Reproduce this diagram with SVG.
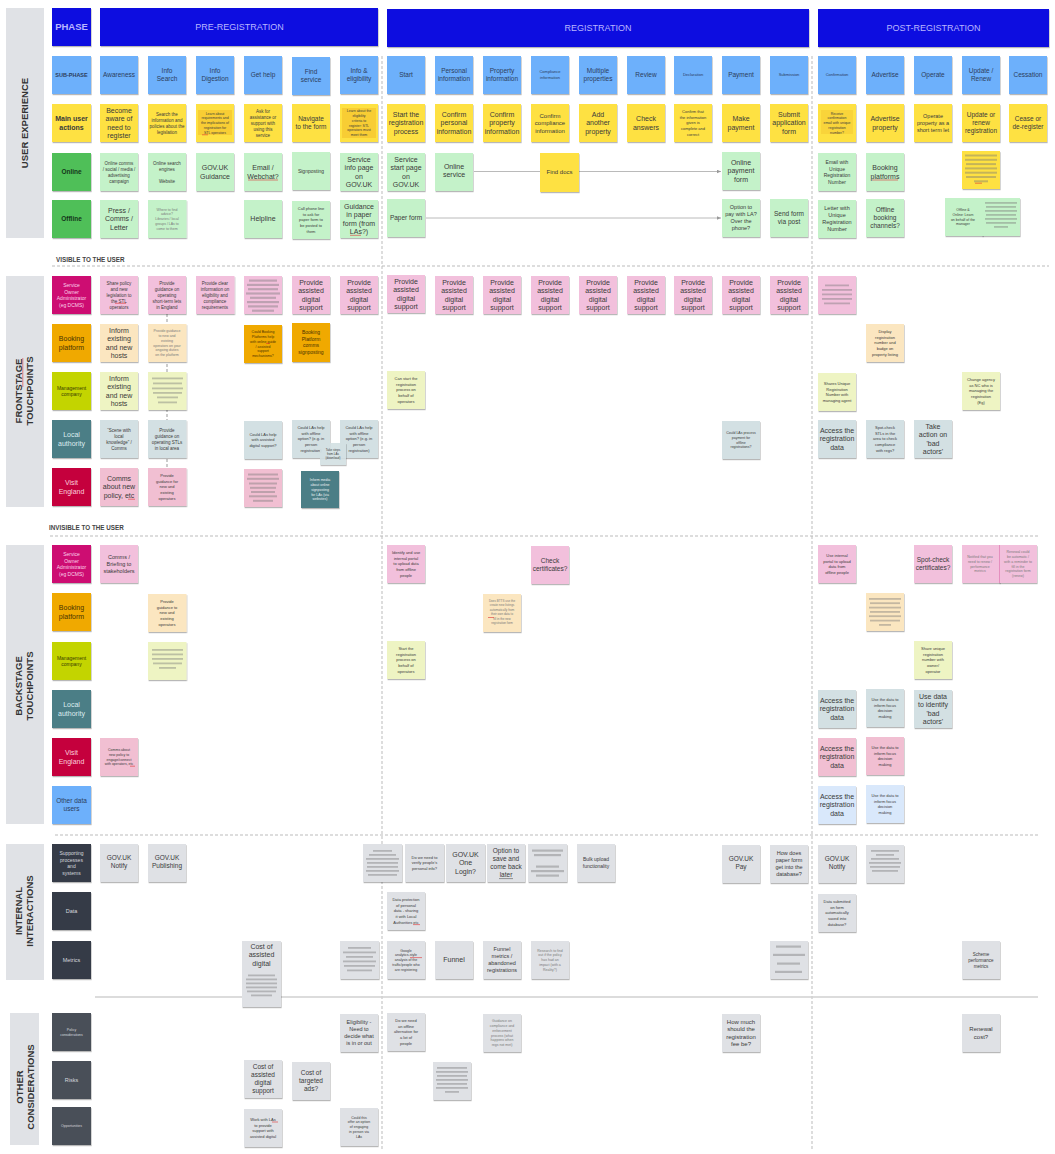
<svg xmlns="http://www.w3.org/2000/svg" width="1055" height="1154" viewBox="0 0 1055 1154">
<defs>
<filter id="sh" x="-10%" y="-10%" width="130%" height="130%"><feDropShadow dx="0.6" dy="1.2" stdDeviation="0.7" flood-color="#000" flood-opacity="0.28"/></filter>
<marker id="ar" markerWidth="5" markerHeight="4" refX="4.5" refY="2" orient="auto" markerUnits="userSpaceOnUse"><path d="M0,0 L4.5,2 L0,4 z" fill="#999"/></marker>
<style>
.n{filter:url(#sh)}
.t{font-family:"Liberation Sans",Arial,Helvetica,sans-serif;text-anchor:middle;fill:#3a3a3a}
.bd{font-weight:bold}
.lane{font-size:9.5px;fill:#333}
.s7{font-size:7px}.s65{font-size:6.5px}.s6{font-size:6px}.s55{font-size:5.5px}.s5{font-size:5px}.s45{font-size:4.5px}.s4{font-size:4px}.s35{font-size:3.5px}.s3{font-size:3px}
.ph{fill:#0b0be0}.bl{fill:#6db0fb}.ye{fill:#fee143}.gl{fill:#4fbf59}.gn{fill:#c4f2c9}.mg{fill:#cd0a72}.pk{fill:#f2c0dc}.or{fill:#f0a900}.pe{fill:#fbe6c0}.li{fill:#c3d400}.pl{fill:#eef4c3}.te{fill:#4b7e86}.lb{fill:#d3e0e3}.cr{fill:#c5003e}.vp{fill:#f1bfd2}.ld{fill:#d9e8fb}.dk{fill:#363b46}.dk2{fill:#4a4f59}.gy{fill:#dfe1e5}.sb{fill:#e0e2e6}
.gb{fill:#777;opacity:.42}
.hl{fill:#f2bd2a;opacity:.55}
.tb{fill:#2c3d5c}.tg{fill:#14361a}.tm{fill:#fbd3ea}.to{fill:#4a3200}.tl{fill:#394000}.tt{fill:#dcecef}.tc{fill:#fbcfdc}.td{fill:#d5d8de}.ltx{fill:#7a7a7a}.tw{fill:#e8f0f2}
.sp{stroke:#d33;stroke-width:.6}
.cn{stroke:#a8a8a8;stroke-width:.8;fill:none}
.dl{stroke:#bbb;stroke-width:1;stroke-dasharray:3 2;fill:none}
</style>
</defs>
<rect width="1055" height="1154" fill="#fff"/>

<g id="lanes">
<rect class="sb" x="6" y="8" width="38" height="230"/>
<rect class="sb" x="6" y="276" width="38" height="231"/>
<rect class="sb" x="6" y="545" width="38" height="279"/>
<rect class="sb" x="6" y="844" width="38" height="136"/>
<rect class="sb" x="10" y="1013" width="29" height="132"/>
<text class="t bd lane" transform="translate(25,123) rotate(-90)"><tspan x="0" y="3">USER EXPERIENCE</tspan></text>
<text class="t bd lane" transform="translate(25,391) rotate(-90)"><tspan x="0" y="-3.5">FRONTSTAGE</tspan><tspan x="0" y="8">TOUCHPOINTS</tspan></text>
<line class="sp" x1="22.8" y1="358" x2="22.8" y2="387"/>
<text class="t bd lane" transform="translate(25,686) rotate(-90)"><tspan x="0" y="-3.5">BACKSTAGE</tspan><tspan x="0" y="8">TOUCHPOINTS</tspan></text>
<text class="t bd lane" transform="translate(25,911) rotate(-90)"><tspan x="0" y="-3.5">INTERNAL</tspan><tspan x="0" y="8">INTERACTIONS</tspan></text>
<text class="t bd lane" transform="translate(24.5,1087) rotate(-90)"><tspan x="0" y="-2">OTHER</tspan><tspan x="0" y="9.5">CONSIDERATIONS</tspan></text>
</g>

<g id="dividers">
<path class="dl" d="M382,56 V1150"/>
<path class="dl" d="M812,56 V1150"/>
<path class="dl" d="M52,266 H1049"/>
<path class="dl" d="M50,536 H1038"/>
<path class="dl" d="M55,835 H1040"/>
<path d="M95,997 H1038" stroke="#d0d0d0" stroke-width="1.5"/>
<text class="t bd" x="56" y="262" style="font-size:6.3px;fill:#444;text-anchor:start">VISIBLE TO THE USER</text>
<text class="t bd" x="49" y="530" style="font-size:6.3px;fill:#444;text-anchor:start">INVISIBLE TO THE USER</text>
</g>

<g id="connectors">
<path class="cn" d="M474,171.5 H540"/>
<path class="cn" d="M579,171.5 H721" marker-end="url(#ar)"/>
<path class="cn" d="M426,218 H721" marker-end="url(#ar)"/>
<path class="dl" d="M167,314 V468" style="stroke:#999"/>
</g>

<g id="phases">
<g id="phase-label"><rect class="n ph" x="52" y="8" width="39" height="38"/><text class="t bd" x="71.5" y="30.3" style="font-size:9.5px;fill:#b9b6ff">PHASE</text></g>
<g id="phase-pre"><rect class="n ph" x="100" y="8" width="278" height="38"/><text class="t" x="239.5" y="30.3" style="font-size:9px;fill:#b9b6ff">PRE-REGISTRATION</text></g>
<g id="phase-reg"><rect class="n ph" x="387" y="9" width="422" height="38"/><text class="t" x="598" y="30.8" style="font-size:9px;fill:#b9b6ff">REGISTRATION</text></g>
<g id="phase-post"><rect class="n ph" x="818" y="9" width="231" height="38"/><text class="t" x="933.5" y="30.8" style="font-size:9px;fill:#b9b6ff">POST-REGISTRATION</text></g>
</g>

<g id="ux-subphase">
<g id="lbl-sub"><rect class="n bl" x="52" y="56" width="39" height="38"/><text class="t s55 bd tb"><tspan x="71.5" y="76.9">SUB-PHASE</tspan></text></g>
<g id="sp-aw"><rect class="n bl" x="100" y="56" width="38" height="38"/><text class="t s65 tb"><tspan x="119" y="77.3">Awareness</tspan></text></g>
<g id="sp-is"><rect class="n bl" x="148" y="56" width="38" height="38"/><text class="t s65 tb"><tspan x="167" y="73.3">Info</tspan><tspan x="167" dy="8">Search</tspan></text></g>
<g id="sp-id"><rect class="n bl" x="196" y="56" width="38" height="38"/><text class="t s65 tb"><tspan x="215" y="73.3">Info</tspan><tspan x="215" dy="8">Digestion</tspan></text></g>
<g id="sp-gh"><rect class="n bl" x="244" y="56" width="38" height="38"/><text class="t s65 tb"><tspan x="263" y="77.3">Get help</tspan></text></g>
<g id="sp-fs"><rect class="n bl" x="292" y="57" width="38" height="38"/><text class="t s65 tb"><tspan x="311" y="74.3">Find</tspan><tspan x="311" dy="8">service</tspan></text></g>
<g id="sp-ie"><rect class="n bl" x="340" y="56" width="38" height="38"/><text class="t s65 tb"><tspan x="359" y="73.3">Info &amp;</tspan><tspan x="359" dy="8">eligibility</tspan></text></g>
<g id="sp-st"><rect class="n bl" x="387" y="56" width="38" height="38"/><text class="t s65 tb"><tspan x="406" y="77.3">Start</tspan></text></g>
<g id="sp-pi"><rect class="n bl" x="435" y="56" width="38" height="38"/><text class="t s65 tb"><tspan x="454" y="73.3">Personal</tspan><tspan x="454" dy="8">information</tspan></text></g>
<g id="sp-pr"><rect class="n bl" x="483" y="56" width="38" height="38"/><text class="t s65 tb"><tspan x="502" y="73.3">Property</tspan><tspan x="502" dy="8">information</tspan></text></g>
<g id="sp-co"><rect class="n bl" x="531" y="56" width="38" height="38"/><text class="t s4 tb"><tspan x="550" y="73.4">Compliance</tspan><tspan x="550" dy="6">information</tspan></text></g>
<g id="sp-mp"><rect class="n bl" x="579" y="56" width="38" height="38"/><text class="t s65 tb"><tspan x="598" y="73.3">Multiple</tspan><tspan x="598" dy="8">properties</tspan></text></g>
<g id="sp-rv"><rect class="n bl" x="627" y="56" width="38" height="38"/><text class="t s65 tb"><tspan x="646" y="77.3">Review</tspan></text></g>
<g id="sp-de"><rect class="n bl" x="674" y="56" width="38" height="38"/><text class="t s4 tb"><tspan x="693" y="76.4">Declaration</tspan></text></g>
<g id="sp-pa"><rect class="n bl" x="722" y="56" width="38" height="38"/><text class="t s65 tb"><tspan x="741" y="77.3">Payment</tspan></text></g>
<g id="sp-su"><rect class="n bl" x="770" y="56" width="38" height="38"/><text class="t s4 tb"><tspan x="789" y="76.4">Submission</tspan></text></g>
<g id="sp-cf"><rect class="n bl" x="818" y="56" width="38" height="38"/><text class="t s4 tb"><tspan x="837" y="76.4">Confirmation</tspan></text></g>
<g id="sp-ad"><rect class="n bl" x="866" y="56" width="38" height="38"/><text class="t s65 tb"><tspan x="885" y="77.3">Advertise</tspan></text></g>
<g id="sp-op"><rect class="n bl" x="914" y="56" width="38" height="38"/><text class="t s65 tb"><tspan x="933" y="77.3">Operate</tspan></text></g>
<g id="sp-ur"><rect class="n bl" x="962" y="56" width="38" height="38"/><text class="t s65 tb"><tspan x="981" y="73.3">Update /</tspan><tspan x="981" dy="8">Renew</tspan></text></g>
<g id="sp-ce"><rect class="n bl" x="1009" y="56" width="38" height="38"/><text class="t s65 tb"><tspan x="1028" y="77.3">Cessation</tspan></text></g>
</g>

<g id="ux-main">
<g id="lbl-main"><rect class="n ye" x="52" y="104" width="39" height="38"/><text class="t s7 bd"><tspan x="71.5" y="121.3">Main user</tspan><tspan x="71.5" dy="8.3">actions</tspan></text></g>
<g id="ma-aw"><rect class="n ye" x="100" y="104" width="38" height="38"/><text class="t s7"><tspan x="119" y="113">Become</tspan><tspan x="119" dy="8.3">aware of</tspan><tspan x="119" dy="8.3">need to</tspan><tspan x="119" dy="8.3">register</tspan></text></g>
<g id="ma-is"><rect class="n ye" x="148" y="104" width="38" height="38"/><text class="t s45"><tspan x="167" y="115.6">Search the</tspan><tspan x="167" dy="6">information and</tspan><tspan x="167" dy="6">policies about the</tspan><tspan x="167" dy="6">legislation</tspan></text></g>
<g id="ma-id"><rect class="n ye" x="196" y="104" width="38" height="38"/><rect class="hl" x="198" y="110" width="34" height="25"/><text class="t s35"><tspan x="215" y="114.6">Learn about</tspan><tspan x="215" dy="4.8">requirements and</tspan><tspan x="215" dy="4.8">the implications of</tspan><tspan x="215" dy="4.8">registration for</tspan><tspan x="215" dy="4.8">STL operators</tspan></text><line class="sp" x1="202" y1="134.8" x2="208" y2="134.8"/></g>
<g id="ma-gh"><rect class="n ye" x="244" y="104" width="38" height="38"/><text class="t s45"><tspan x="263" y="112.6">Ask for</tspan><tspan x="263" dy="6">assistance or</tspan><tspan x="263" dy="6">support with</tspan><tspan x="263" dy="6">using this</tspan><tspan x="263" dy="6">service</tspan></text></g>
<g id="ma-fs"><rect class="n ye" x="292" y="104" width="38" height="38"/><text class="t s65"><tspan x="311" y="121.3">Navigate</tspan><tspan x="311" dy="8">to the form</tspan></text></g>
<g id="ma-ie"><rect class="n ye" x="340" y="104" width="38" height="38"/><rect class="hl" x="342" y="108" width="34" height="30"/><text class="t s35"><tspan x="359" y="112.2">Learn about the</tspan><tspan x="359" dy="4.8">eligibility</tspan><tspan x="359" dy="4.8">criteria to</tspan><tspan x="359" dy="4.8">register: STL</tspan><tspan x="359" dy="4.8">operators must</tspan><tspan x="359" dy="4.8">meet them</tspan></text></g>
<g id="ma-st"><rect class="n ye" x="387" y="104" width="38" height="38"/><text class="t s7"><tspan x="406" y="117.15">Start the</tspan><tspan x="406" dy="8.3">registration</tspan><tspan x="406" dy="8.3">process</tspan></text></g>
<g id="ma-pi"><rect class="n ye" x="435" y="104" width="38" height="38"/><text class="t s7"><tspan x="454" y="117.15">Confirm</tspan><tspan x="454" dy="8.3">personal</tspan><tspan x="454" dy="8.3">information</tspan></text></g>
<g id="ma-pr"><rect class="n ye" x="483" y="104" width="38" height="38"/><text class="t s7"><tspan x="502" y="117.15">Confirm</tspan><tspan x="502" dy="8.3">property</tspan><tspan x="502" dy="8.3">information</tspan></text></g>
<g id="ma-co"><rect class="n ye" x="531" y="104" width="38" height="38"/><text class="t s6"><tspan x="550" y="117.6">Confirm</tspan><tspan x="550" dy="7.5">compliance</tspan><tspan x="550" dy="7.5">information</tspan></text></g>
<g id="ma-mp"><rect class="n ye" x="579" y="104" width="38" height="38"/><text class="t s7"><tspan x="598" y="117.15">Add</tspan><tspan x="598" dy="8.3">another</tspan><tspan x="598" dy="8.3">property</tspan></text></g>
<g id="ma-rv"><rect class="n ye" x="627" y="104" width="38" height="38"/><text class="t s7"><tspan x="646" y="121.3">Check</tspan><tspan x="646" dy="8.3">answers</tspan></text></g>
<g id="ma-de"><rect class="n ye" x="674" y="104" width="38" height="38"/><text class="t s4"><tspan x="693" y="113">Confirm that</tspan><tspan x="693" dy="5.7">the information</tspan><tspan x="693" dy="5.7">given is</tspan><tspan x="693" dy="5.7">complete and</tspan><tspan x="693" dy="5.7">correct</tspan></text></g>
<g id="ma-pa"><rect class="n ye" x="722" y="104" width="38" height="38"/><text class="t s7"><tspan x="741" y="121.3">Make</tspan><tspan x="741" dy="8.3">payment</tspan></text></g>
<g id="ma-su"><rect class="n ye" x="770" y="104" width="38" height="38"/><text class="t s7"><tspan x="789" y="117.15">Submit</tspan><tspan x="789" dy="8.3">application</tspan><tspan x="789" dy="8.3">form</tspan></text></g>
<g id="ma-cf"><rect class="n ye" x="818" y="104" width="38" height="38"/><rect class="hl" x="821" y="110" width="32" height="24" style="opacity:.35"/><text class="t s35"><tspan x="837" y="114.6">Receive</tspan><tspan x="837" dy="4.8">confirmation</tspan><tspan x="837" dy="4.8">email with unique</tspan><tspan x="837" dy="4.8">registration</tspan><tspan x="837" dy="4.8">number?</tspan></text></g>
<g id="ma-ad"><rect class="n ye" x="866" y="104" width="38" height="38"/><text class="t s7"><tspan x="885" y="121.3">Advertise</tspan><tspan x="885" dy="8.3">property</tspan></text></g>
<g id="ma-op"><rect class="n ye" x="914" y="104" width="38" height="38"/><text class="t s55"><tspan x="933" y="117.9">Operate</tspan><tspan x="933" dy="7">property as a</tspan><tspan x="933" dy="7">short term let</tspan></text></g>
<g id="ma-ur"><rect class="n ye" x="962" y="104" width="38" height="38"/><text class="t s65"><tspan x="981" y="117.3">Update or</tspan><tspan x="981" dy="8">renew</tspan><tspan x="981" dy="8">registration</tspan></text></g>
<g id="ma-ce"><rect class="n ye" x="1009" y="104" width="38" height="38"/><text class="t s65"><tspan x="1028" y="121.3">Cease or</tspan><tspan x="1028" dy="8">de-register</tspan></text></g>
</g>

<g id="ux-online">
<g id="lbl-online"><rect class="n gl" x="52" y="153" width="39" height="38"/><text class="t s65 bd tg"><tspan x="71.5" y="174.3">Online</tspan></text></g>
<g id="on-aw"><rect class="n gn" x="100" y="153" width="38" height="38"/><text class="t s45"><tspan x="119" y="164.6">Online comms</tspan><tspan x="119" dy="6">/ social / media /</tspan><tspan x="119" dy="6">advertising</tspan><tspan x="119" dy="6">campaign</tspan></text></g>
<g id="on-is"><rect class="n gn" x="148" y="153" width="38" height="38"/><text class="t s45"><tspan x="167" y="164.6">Online search</tspan><tspan x="167" dy="6">engines</tspan><tspan x="167" dy="12">Website</tspan></text></g>
<g id="on-id"><rect class="n gn" x="196" y="153" width="38" height="38"/><text class="t s7"><tspan x="215" y="170.3">GOV.UK</tspan><tspan x="215" dy="8.3">Guidance</tspan></text></g>
<g id="on-gh"><rect class="n gn" x="244" y="153" width="38" height="38"/><text class="t s7"><tspan x="263" y="170.3">Email /</tspan><tspan x="263" dy="8.3">Webchat?</tspan></text><line class="sp" x1="248" y1="180" x2="278" y2="180"/></g>
<g id="on-fs"><rect class="n gn" x="292" y="152" width="38" height="38"/><text class="t s5"><tspan x="311" y="172.75">Signposting</tspan></text></g>
<g id="on-ie"><rect class="n gn" x="340" y="153" width="38" height="38"/><text class="t s7"><tspan x="359" y="162">Service</tspan><tspan x="359" dy="8.3">info page</tspan><tspan x="359" dy="8.3">on</tspan><tspan x="359" dy="8.3">GOV.UK</tspan></text></g>
<g id="on-st"><rect class="n gn" x="387" y="153" width="38" height="38"/><text class="t s7"><tspan x="406" y="162">Service</tspan><tspan x="406" dy="8.3">start page</tspan><tspan x="406" dy="8.3">on</tspan><tspan x="406" dy="8.3">GOV.UK</tspan></text></g>
<g id="on-pi"><rect class="n gn" x="435" y="153" width="38" height="38"/><text class="t s7"><tspan x="454" y="169">Online</tspan><tspan x="454" dy="8.3">service</tspan></text></g>
<g id="on-docs"><rect class="n ye" x="540" y="153" width="39" height="39"/><text class="t s6"><tspan x="559.5" y="174.1">Find docs</tspan></text></g>
<g id="on-pa"><rect class="n gn" x="722" y="152" width="38" height="38"/><text class="t s7"><tspan x="741" y="165.15">Online</tspan><tspan x="741" dy="8.3">payment</tspan><tspan x="741" dy="8.3">form</tspan></text></g>
<g id="on-cf"><rect class="n gn" x="818" y="153" width="38" height="38"/><text class="t s5"><tspan x="837" y="164">Email with</tspan><tspan x="837" dy="6.5">Unique</tspan><tspan x="837" dy="6.5">Registration</tspan><tspan x="837" dy="6.5">Number</tspan></text></g>
<g id="on-ad"><rect class="n gn" x="866" y="153" width="38" height="38"/><text class="t s7"><tspan x="885" y="170.3">Booking</tspan><tspan x="885" dy="8.3">platforms</tspan></text><line class="sp" x1="872" y1="180" x2="898" y2="180"/></g>
<g id="on-ur"><rect class="n ye" x="962" y="151" width="38" height="38"/><rect class="gb" x="965" y="154.5" width="32" height="2"/><rect class="gb" x="965" y="158.8" width="32" height="2"/><rect class="gb" x="966" y="163.1" width="30" height="2"/><rect class="gb" x="965" y="167.4" width="32" height="2"/><rect class="gb" x="965" y="171.7" width="32" height="2"/><rect class="gb" x="966" y="176" width="30" height="2"/><rect class="gb" x="974" y="180.3" width="14" height="2"/><line class="sp" x1="975" y1="183.2" x2="982" y2="183.2"/></g>
</g>

<g id="ux-offline">
<g id="lbl-offline"><rect class="n gl" x="52" y="200" width="39" height="38"/><text class="t s65 bd tg"><tspan x="71.5" y="221.3">Offline</tspan></text></g>
<g id="off-aw"><rect class="n gn" x="100" y="200" width="38" height="38"/><text class="t s7"><tspan x="119" y="213.15">Press /</tspan><tspan x="119" dy="8.3">Comms /</tspan><tspan x="119" dy="8.3">Letter</tspan></text></g>
<g id="off-is"><rect class="n gn" x="148" y="200" width="38.5" height="38"/><text class="t s35 ltx"><tspan x="167" y="210.6">Where to find</tspan><tspan x="167" dy="4.8">advice?</tspan><tspan x="167" dy="4.8">Libraries / local</tspan><tspan x="167" dy="4.8">groups / LAs to</tspan><tspan x="167" dy="4.8">come to them</tspan></text></g>
<g id="off-gh"><rect class="n gn" x="244" y="200" width="38" height="38"/><text class="t s7"><tspan x="263" y="221.45">Helpline</tspan></text></g>
<g id="off-fs"><rect class="n gn" x="292" y="201" width="38" height="38"/><text class="t s4"><tspan x="311" y="210">Call phone line</tspan><tspan x="311" dy="5.7">to ask for</tspan><tspan x="311" dy="5.7">paper form to</tspan><tspan x="311" dy="5.7">be posted to</tspan><tspan x="311" dy="5.7">them</tspan></text></g>
<g id="off-ie"><rect class="n gn" x="340" y="200" width="38" height="38"/><text class="t s7"><tspan x="359" y="209">Guidance</tspan><tspan x="359" dy="8.3">in paper</tspan><tspan x="359" dy="8.3">form (from</tspan><tspan x="359" dy="8.3">LAs?)</tspan></text><line class="sp" x1="350" y1="235.3" x2="361" y2="235.3"/></g>
<g id="off-st"><rect class="n gn" x="387" y="199" width="38" height="38"/><text class="t s65"><tspan x="406" y="220.3">Paper form</tspan></text></g>
<g id="off-pa"><rect class="n gn" x="722" y="199" width="38" height="38"/><text class="t s55"><tspan x="741" y="209.4">Option to</tspan><tspan x="741" dy="7">pay with LA?</tspan><tspan x="741" dy="7">Over the</tspan><tspan x="741" dy="7">phone?</tspan></text></g>
<g id="off-su"><rect class="n gn" x="770" y="199" width="38" height="38"/><text class="t s65"><tspan x="789" y="216.3">Send form</tspan><tspan x="789" dy="8">via post</tspan></text></g>
<g id="off-cf"><rect class="n gn" x="818" y="200" width="38" height="38"/><text class="t s55"><tspan x="837" y="210.4">Letter with</tspan><tspan x="837" dy="7">Unique</tspan><tspan x="837" dy="7">Registration</tspan><tspan x="837" dy="7">Number</tspan></text></g>
<g id="off-ad"><rect class="n gn" x="866" y="199" width="38" height="38"/><text class="t s65"><tspan x="885" y="212.3">Offline</tspan><tspan x="885" dy="8">booking</tspan><tspan x="885" dy="8">channels?</tspan></text></g>
<g id="off-ur"><rect class="n gn" x="945" y="198" width="38" height="38"/><text class="t s35"><tspan x="963" y="211">Offline &amp;</tspan><tspan x="963" dy="4.8">Online: Learn</tspan><tspan x="963" dy="4.8">on behalf of the</tspan><tspan x="963" dy="4.8">manager</tspan></text></g>
<g id="off-ur2"><rect class="n gn" x="982" y="198" width="38" height="38"/><rect class="gb" x="985" y="202" width="32" height="1.8"/><rect class="gb" x="986" y="206" width="30" height="1.8"/><rect class="gb" x="985" y="210" width="32" height="1.8"/><rect class="gb" x="986" y="214" width="30" height="1.8"/><rect class="gb" x="985" y="218" width="32" height="1.8"/><rect class="gb" x="986" y="222" width="30" height="1.8"/><rect class="gb" x="994" y="226" width="14" height="1.8"/></g>
</g>

<g id="fs-owner">
<g id="lbl-fs-owner"><rect class="n mg" x="52" y="276" width="39" height="38"/><text class="t s5 tm"><tspan x="71.5" y="287">Service</tspan><tspan x="71.5" dy="6.5">Owner</tspan><tspan x="71.5" dy="6.5">Administrator</tspan><tspan x="71.5" dy="6.5">(eg DCMS)</tspan></text></g>
<g id="fso-aw"><rect class="n pk" x="100" y="276" width="38" height="38"/><text class="t s45"><tspan x="119" y="284.6">Share policy</tspan><tspan x="119" dy="6">and new</tspan><tspan x="119" dy="6">legislation to</tspan><tspan x="119" dy="6">the STL</tspan><tspan x="119" dy="6">operators</tspan></text><line class="sp" x1="115" y1="303.3" x2="126" y2="303.3"/></g>
<g id="fso-is"><rect class="n pk" x="148" y="276" width="38" height="38"/><text class="t s45"><tspan x="167" y="284.6">Provide</tspan><tspan x="167" dy="6">guidance on</tspan><tspan x="167" dy="6">operating</tspan><tspan x="167" dy="6">short-term lets</tspan><tspan x="167" dy="6">in England</tspan></text></g>
<g id="fso-id"><rect class="n pk" x="196" y="276" width="38.5" height="38"/><text class="t s45"><tspan x="215" y="284.6">Provide clear</tspan><tspan x="215" dy="6">information on</tspan><tspan x="215" dy="6">eligibility and</tspan><tspan x="215" dy="6">compliance</tspan><tspan x="215" dy="6">requirements</tspan></text></g>
<g id="fso-gh"><rect class="n pk" x="244" y="276" width="38" height="38"/><rect class="gb" x="249" y="279.5" width="28" height="2.2"/><rect class="gb" x="247" y="283.8" width="32" height="2.2"/><rect class="gb" x="248" y="288.1" width="30" height="2.2"/><rect class="gb" x="246" y="292.4" width="34" height="2.2"/><rect class="gb" x="250" y="296.7" width="26" height="2.2"/><rect class="gb" x="247" y="301" width="32" height="2.2"/><rect class="gb" x="248" y="305.3" width="30" height="2.2"/><rect class="gb" x="252" y="309.6" width="22" height="2.2"/></g>
<g id="fso-fs"><rect class="n pk" x="292" y="276" width="38" height="38"/><text class="t s7"><tspan x="311" y="285">Provide</tspan><tspan x="311" dy="8.3">assisted</tspan><tspan x="311" dy="8.3">digital</tspan><tspan x="311" dy="8.3">support</tspan></text></g>
<g id="fso-ie"><rect class="n pk" x="340" y="276" width="38" height="38"/><text class="t s7"><tspan x="359" y="285">Provide</tspan><tspan x="359" dy="8.3">assisted</tspan><tspan x="359" dy="8.3">digital</tspan><tspan x="359" dy="8.3">support</tspan></text></g>
<g id="fso-st"><rect class="n pk" x="387" y="275" width="38" height="38"/><text class="t s7"><tspan x="406" y="284">Provide</tspan><tspan x="406" dy="8.3">assisted</tspan><tspan x="406" dy="8.3">digital</tspan><tspan x="406" dy="8.3">support</tspan></text></g>
<g id="fso-pi"><rect class="n pk" x="435" y="276" width="38" height="38"/><text class="t s7"><tspan x="454" y="285">Provide</tspan><tspan x="454" dy="8.3">assisted</tspan><tspan x="454" dy="8.3">digital</tspan><tspan x="454" dy="8.3">support</tspan></text></g>
<g id="fso-pr"><rect class="n pk" x="483" y="276" width="38" height="38"/><text class="t s7"><tspan x="502" y="285">Provide</tspan><tspan x="502" dy="8.3">assisted</tspan><tspan x="502" dy="8.3">digital</tspan><tspan x="502" dy="8.3">support</tspan></text></g>
<g id="fso-co"><rect class="n pk" x="531" y="276" width="38" height="38"/><text class="t s7"><tspan x="550" y="285">Provide</tspan><tspan x="550" dy="8.3">assisted</tspan><tspan x="550" dy="8.3">digital</tspan><tspan x="550" dy="8.3">support</tspan></text></g>
<g id="fso-mp"><rect class="n pk" x="579" y="276" width="38" height="38"/><text class="t s7"><tspan x="598" y="285">Provide</tspan><tspan x="598" dy="8.3">assisted</tspan><tspan x="598" dy="8.3">digital</tspan><tspan x="598" dy="8.3">support</tspan></text></g>
<g id="fso-rv"><rect class="n pk" x="627" y="276" width="38" height="38"/><text class="t s7"><tspan x="646" y="285">Provide</tspan><tspan x="646" dy="8.3">assisted</tspan><tspan x="646" dy="8.3">digital</tspan><tspan x="646" dy="8.3">support</tspan></text></g>
<g id="fso-de"><rect class="n pk" x="674" y="276" width="38" height="38"/><text class="t s7"><tspan x="693" y="285">Provide</tspan><tspan x="693" dy="8.3">assisted</tspan><tspan x="693" dy="8.3">digital</tspan><tspan x="693" dy="8.3">support</tspan></text></g>
<g id="fso-pa"><rect class="n pk" x="722" y="276" width="38" height="38"/><text class="t s7"><tspan x="741" y="285">Provide</tspan><tspan x="741" dy="8.3">assisted</tspan><tspan x="741" dy="8.3">digital</tspan><tspan x="741" dy="8.3">support</tspan></text></g>
<g id="fso-su"><rect class="n pk" x="770" y="276" width="38" height="38"/><text class="t s7"><tspan x="789" y="285">Provide</tspan><tspan x="789" dy="8.3">assisted</tspan><tspan x="789" dy="8.3">digital</tspan><tspan x="789" dy="8.3">support</tspan></text></g>
<g id="fso-cf"><rect class="n pk" x="818" y="276" width="38" height="38"/><rect class="gb" x="825" y="284.5" width="24" height="1.8"/><rect class="gb" x="822" y="289" width="30" height="1.8"/><rect class="gb" x="822" y="293.5" width="30" height="1.8"/><rect class="gb" x="822" y="298" width="30" height="1.8"/><rect class="gb" x="824" y="302.5" width="26" height="1.8"/></g>
</g>

<g id="fs-booking">
<g id="lbl-fs-booking"><rect class="n or" x="52" y="324" width="39" height="38"/><text class="t s7 to"><tspan x="71.5" y="341.3">Booking</tspan><tspan x="71.5" dy="8.3">platform</tspan></text></g>
<g id="fsb-aw"><rect class="n pe" x="100" y="324" width="38" height="38"/><text class="t s7"><tspan x="119" y="333">Inform</tspan><tspan x="119" dy="8.3">existing</tspan><tspan x="119" dy="8.3">and new</tspan><tspan x="119" dy="8.3">hosts</tspan></text></g>
<g id="fsb-is"><rect class="n pe" x="148" y="324" width="38.5" height="38"/><text class="t s35 ltx"><tspan x="167" y="332.2">Provide guidance</tspan><tspan x="167" dy="4.8">to new and</tspan><tspan x="167" dy="4.8">existing</tspan><tspan x="167" dy="4.8">operators on your</tspan><tspan x="167" dy="4.8">ongoing duties</tspan><tspan x="167" dy="4.8">on the platform</tspan></text></g>
<g id="fsb-gh"><rect class="n or" x="244" y="325" width="38" height="38"/><text class="t s35 to"><tspan x="263" y="333.2">Could Booking</tspan><tspan x="263" dy="4.8">Platforms help</tspan><tspan x="263" dy="4.8">with online guide</tspan><tspan x="263" dy="4.8">/ assisted</tspan><tspan x="263" dy="4.8">support</tspan><tspan x="263" dy="4.8">mechanisms?</tspan></text><line class="sp" x1="266" y1="343.4" x2="270" y2="343.4"/></g>
<g id="fsb-fs"><rect class="n or" x="292" y="323" width="38" height="39"/><text class="t s5 to"><tspan x="311" y="334">Booking</tspan><tspan x="311" dy="6.5">Platform</tspan><tspan x="311" dy="6.5">comms</tspan><tspan x="311" dy="6.5">signposting</tspan></text></g>
<g id="fsb-ad"><rect class="n pe" x="866" y="324" width="38" height="38"/><text class="t s4"><tspan x="885" y="333">Display</tspan><tspan x="885" dy="5.7">registration</tspan><tspan x="885" dy="5.7">number and</tspan><tspan x="885" dy="5.7">badge on</tspan><tspan x="885" dy="5.7">property listing</tspan></text></g>
</g>

<g id="fs-mgmt">
<g id="lbl-fs-mgmt"><rect class="n li" x="52" y="372" width="39" height="38"/><text class="t s5 tl"><tspan x="71.5" y="389.5">Management</tspan><tspan x="71.5" dy="6.5">company</tspan></text></g>
<g id="fsm-aw"><rect class="n pl" x="100" y="372" width="38" height="38"/><text class="t s7"><tspan x="119" y="381">Inform</tspan><tspan x="119" dy="8.3">existing</tspan><tspan x="119" dy="8.3">and new</tspan><tspan x="119" dy="8.3">hosts</tspan></text></g>
<g id="fsm-is"><rect class="n pl" x="148" y="372" width="38.5" height="38"/><rect class="gb" x="152" y="377.5" width="31" height="1.8"/><rect class="gb" x="153" y="382.5" width="29" height="1.8"/><rect class="gb" x="152" y="387.5" width="31" height="1.8"/><rect class="gb" x="153" y="392" width="29" height="1.8"/><rect class="gb" x="157" y="396.5" width="21" height="1.8"/><rect class="gb" x="158" y="401.5" width="19" height="1.8"/></g>
<g id="fsm-st"><rect class="n pl" x="387" y="371" width="38" height="38"/><text class="t s4"><tspan x="406" y="380">Can start the</tspan><tspan x="406" dy="5.7">registration</tspan><tspan x="406" dy="5.7">process on</tspan><tspan x="406" dy="5.7">behalf of</tspan><tspan x="406" dy="5.7">operators</tspan></text></g>
<g id="fsm-cf"><rect class="n pl" x="818" y="373" width="38" height="38"/><text class="t s4"><tspan x="837" y="384.85">Shares Unique</tspan><tspan x="837" dy="5.7">Registration</tspan><tspan x="837" dy="5.7">Number with</tspan><tspan x="837" dy="5.7">managing agent</tspan></text></g>
<g id="fsm-ur"><rect class="n pl" x="962" y="372" width="38" height="38"/><text class="t s4"><tspan x="981" y="381">Change agency</tspan><tspan x="981" dy="5.7">as NC who is</tspan><tspan x="981" dy="5.7">managing the</tspan><tspan x="981" dy="5.7">registration</tspan><tspan x="981" dy="5.7">(Eg)</tspan></text></g>
</g>

<g id="fs-la">
<g id="lbl-fs-la"><rect class="n te" x="52" y="420" width="39" height="38"/><text class="t s7 tt"><tspan x="71.5" y="437.3">Local</tspan><tspan x="71.5" dy="8.3">authority</tspan></text></g>
<g id="fsl-aw"><rect class="n lb" x="100" y="420" width="38" height="38"/><text class="t s45"><tspan x="119" y="431.6">“Scene with</tspan><tspan x="119" dy="6">local</tspan><tspan x="119" dy="6">knowledge” /</tspan><tspan x="119" dy="6">Comms</tspan></text></g>
<g id="fsl-is"><rect class="n lb" x="148" y="420" width="38.5" height="38"/><text class="t s45"><tspan x="167" y="431.6">Provide</tspan><tspan x="167" dy="6">guidance on</tspan><tspan x="167" dy="6">operating STLs</tspan><tspan x="167" dy="6">in local area</tspan></text></g>
<g id="fsl-gh"><rect class="n lb" x="244" y="421" width="38" height="38"/><text class="t s4"><tspan x="263" y="435.7">Could LAs help</tspan><tspan x="263" dy="5.7">with assisted</tspan><tspan x="263" dy="5.7">digital support?</tspan></text></g>
<g id="fsl-fs"><rect class="n lb" x="292" y="420" width="38" height="38"/><text class="t s4"><tspan x="311" y="429">Could LAs help</tspan><tspan x="311" dy="5.7">with offline</tspan><tspan x="311" dy="5.7">option? (e.g. in</tspan><tspan x="311" dy="5.7">person</tspan><tspan x="311" dy="5.7">registration)</tspan></text></g>
<g id="fsl-ie"><rect class="n lb" x="340" y="420" width="38" height="38"/><text class="t s4"><tspan x="359" y="429">Could LAs help</tspan><tspan x="359" dy="5.7">with offline</tspan><tspan x="359" dy="5.7">option? (e.g. in</tspan><tspan x="359" dy="5.7">person</tspan><tspan x="359" dy="5.7">registration)</tspan></text></g>
<g id="fsl-fs2"><rect class="n lb" x="320" y="443" width="26" height="22" style="opacity:.9"/><text class="t s3"><tspan x="333" y="450.5">Take steps</tspan><tspan x="333" dy="4">from LAs</tspan><tspan x="333" dy="4">(download)</tspan></text></g>
<g id="fsl-pa"><rect class="n lb" x="722" y="421" width="38" height="38"/><text class="t s35"><tspan x="741" y="434">Could LAs process</tspan><tspan x="741" dy="4.8">payment for</tspan><tspan x="741" dy="4.8">offline</tspan><tspan x="741" dy="4.8">registrations?</tspan></text></g>
<g id="fsl-cf"><rect class="n lb" x="818" y="420" width="38" height="38"/><text class="t s7"><tspan x="837" y="433.15">Access the</tspan><tspan x="837" dy="8.3">registration</tspan><tspan x="837" dy="8.3">data</tspan></text></g>
<g id="fsl-ad"><rect class="n lb" x="866" y="420" width="38" height="38"/><text class="t s4"><tspan x="885" y="429">Spot-check</tspan><tspan x="885" dy="5.7">STLs in the</tspan><tspan x="885" dy="5.7">area to check</tspan><tspan x="885" dy="5.7">compliance</tspan><tspan x="885" dy="5.7">with regs?</tspan></text></g>
<g id="fsl-op"><rect class="n lb" x="914" y="420" width="38" height="38"/><text class="t s7"><tspan x="933" y="429">Take</tspan><tspan x="933" dy="8.3">action on</tspan><tspan x="933" dy="8.3">'bad</tspan><tspan x="933" dy="8.3">actors'</tspan></text></g>
</g>

<g id="fs-ve">
<g id="lbl-fs-ve"><rect class="n cr" x="52" y="468" width="39" height="38"/><text class="t s7 tc"><tspan x="71.5" y="485.3">Visit</tspan><tspan x="71.5" dy="8.3">England</tspan></text></g>
<g id="fsv-aw"><rect class="n vp" x="100" y="468" width="38" height="38"/><text class="t s7"><tspan x="119" y="481.15">Comms</tspan><tspan x="119" dy="8.3">about new</tspan><tspan x="119" dy="8.3">policy, etc</tspan></text><line class="sp" x1="128" y1="499.2" x2="135" y2="499.2"/></g>
<g id="fsv-is"><rect class="n vp" x="148" y="468" width="38.5" height="38"/><text class="t s4"><tspan x="167" y="477">Provide</tspan><tspan x="167" dy="5.7">guidance for</tspan><tspan x="167" dy="5.7">new and</tspan><tspan x="167" dy="5.7">existing</tspan><tspan x="167" dy="5.7">operators</tspan></text></g>
<g id="fsv-gh"><rect class="n vp" x="244" y="469" width="38" height="38"/><rect class="gb" x="248" y="473.5" width="30" height="2"/><rect class="gb" x="247" y="477.8" width="32" height="2"/><rect class="gb" x="249" y="482.5" width="28" height="2"/><rect class="gb" x="250" y="486.8" width="26" height="2"/><rect class="gb" x="251" y="491" width="24" height="2"/><rect class="gb" x="249" y="495.3" width="28" height="2"/><rect class="gb" x="253" y="499.8" width="20" height="2"/></g>
<g id="fsv-fs"><rect class="n te" x="301" y="471" width="38" height="37"/><text class="t s35 tw"><tspan x="320" y="481.1">Inform media</tspan><tspan x="320" dy="4.8">about online</tspan><tspan x="320" dy="4.8">signposting</tspan><tspan x="320" dy="4.8">for LAs (via</tspan><tspan x="320" dy="4.8">websites)</tspan></text></g>
</g>

<g id="bs-owner">
<g id="lbl-bs-owner"><rect class="n mg" x="52" y="545" width="39" height="38"/><text class="t s5 tm"><tspan x="71.5" y="556">Service</tspan><tspan x="71.5" dy="6.5">Owner</tspan><tspan x="71.5" dy="6.5">Administrator</tspan><tspan x="71.5" dy="6.5">(eg DCMS)</tspan></text></g>
<g id="bso-aw"><rect class="n pk" x="100" y="545" width="38" height="38"/><text class="t s55"><tspan x="119" y="558.9">Comms /</tspan><tspan x="119" dy="7">Briefing to</tspan><tspan x="119" dy="7">stakeholders</tspan></text></g>
<g id="bso-st"><rect class="n pk" x="387" y="545" width="38" height="38"/><text class="t s4"><tspan x="406" y="554">Identify and use</tspan><tspan x="406" dy="5.7">internal portal</tspan><tspan x="406" dy="5.7">to upload data</tspan><tspan x="406" dy="5.7">from offline</tspan><tspan x="406" dy="5.7">people</tspan></text></g>
<g id="bso-co"><rect class="n pk" x="531" y="546" width="38" height="38"/><text class="t s65"><tspan x="550" y="563.3">Check</tspan><tspan x="550" dy="8">certificates?</tspan></text></g>
<g id="bso-cf"><rect class="n pk" x="818" y="545" width="38" height="38"/><text class="t s4"><tspan x="837" y="556.85">Use internal</tspan><tspan x="837" dy="5.7">portal to upload</tspan><tspan x="837" dy="5.7">data from</tspan><tspan x="837" dy="5.7">offline people</tspan></text></g>
<g id="bso-op"><rect class="n pk" x="914" y="545" width="38" height="38"/><text class="t s65"><tspan x="933" y="562.3">Spot-check</tspan><tspan x="933" dy="8">certificates?</tspan></text></g>
<g id="bso-ur"><rect class="n pk" x="962" y="545" width="38" height="38"/><text class="t s35 ltx"><tspan x="980" y="558">Notified that you</tspan><tspan x="980" dy="4.8">need to renew /</tspan><tspan x="980" dy="4.8">performance</tspan><tspan x="980" dy="4.8">metrics</tspan></text></g>
<g id="bso-ur2"><rect class="n pk" x="999" y="545" width="38" height="38"/><line x1="999.5" y1="545" x2="999.5" y2="583" stroke="#e58fbf" stroke-width="1"/><text class="t s35 ltx"><tspan x="1018" y="553.2">Renewal could</tspan><tspan x="1018" dy="4.8">be automatic /</tspan><tspan x="1018" dy="4.8">with a reminder to</tspan><tspan x="1018" dy="4.8">fill in the</tspan><tspan x="1018" dy="4.8">registration form</tspan><tspan x="1018" dy="4.8">(renew)</tspan></text></g>
</g>

<g id="bs-booking">
<g id="lbl-bs-booking"><rect class="n or" x="52" y="593" width="39" height="38"/><text class="t s7 to"><tspan x="71.5" y="610.3">Booking</tspan><tspan x="71.5" dy="8.3">platform</tspan></text></g>
<g id="bsb-is"><rect class="n pe" x="148" y="594" width="38.5" height="38"/><text class="t s4"><tspan x="167" y="603">Provide</tspan><tspan x="167" dy="5.7">guidance to</tspan><tspan x="167" dy="5.7">new and</tspan><tspan x="167" dy="5.7">existing</tspan><tspan x="167" dy="5.7">operators</tspan></text></g>
<g id="bsb-pr"><rect class="n pe" x="483" y="594" width="38" height="38"/><text class="t s3 ltx"><tspan x="502" y="602">Does BTTS use the</tspan><tspan x="502" dy="4.4">create new listings</tspan><tspan x="502" dy="4.4">automatically from</tspan><tspan x="502" dy="4.4">their own data to</tspan><tspan x="502" dy="4.4">fill in the new</tspan><tspan x="502" dy="4.4">registration form</tspan></text><line class="sp" x1="488" y1="617.5" x2="494" y2="617.5"/></g>
<g id="bsb-ad"><rect class="n pe" x="866" y="593" width="38" height="38"/><rect class="gb" x="869" y="598" width="32" height="1.8"/><rect class="gb" x="870" y="602.3" width="30" height="1.8"/><rect class="gb" x="869" y="606.7" width="32" height="1.8"/><rect class="gb" x="870" y="611" width="30" height="1.8"/><rect class="gb" x="869" y="615.3" width="32" height="1.8"/><rect class="gb" x="870" y="619.7" width="30" height="1.8"/><rect class="gb" x="879" y="624" width="12" height="1.8"/></g>
</g>

<g id="bs-mgmt">
<g id="lbl-bs-mgmt"><rect class="n li" x="52" y="642" width="39" height="38"/><text class="t s5 tl"><tspan x="71.5" y="659.5">Management</tspan><tspan x="71.5" dy="6.5">company</tspan></text></g>
<g id="bsm-is"><rect class="n pl" x="148" y="642" width="38.5" height="38"/><rect class="gb" x="152" y="649" width="31" height="1.8"/><rect class="gb" x="152" y="653.5" width="31" height="1.8"/><rect class="gb" x="152" y="658" width="31" height="1.8"/><rect class="gb" x="153" y="662.5" width="29" height="1.8"/><rect class="gb" x="159" y="667" width="17" height="1.8"/></g>
<g id="bsm-st"><rect class="n pl" x="387" y="641" width="38" height="38"/><text class="t s4"><tspan x="406" y="650">Start the</tspan><tspan x="406" dy="5.7">registration</tspan><tspan x="406" dy="5.7">process on</tspan><tspan x="406" dy="5.7">behalf of</tspan><tspan x="406" dy="5.7">operators</tspan></text></g>
<g id="bsm-op"><rect class="n pl" x="914" y="641" width="38" height="38"/><text class="t s4"><tspan x="933" y="650">Share unique</tspan><tspan x="933" dy="5.7">registration</tspan><tspan x="933" dy="5.7">number with</tspan><tspan x="933" dy="5.7">owner/</tspan><tspan x="933" dy="5.7">operator</tspan></text></g>
</g>

<g id="bs-la">
<g id="lbl-bs-la"><rect class="n te" x="52" y="690" width="39" height="38"/><text class="t s7 tt"><tspan x="71.5" y="707.3">Local</tspan><tspan x="71.5" dy="8.3">authority</tspan></text></g>
<g id="bsl-cf"><rect class="n lb" x="818" y="690" width="38" height="38"/><text class="t s7"><tspan x="837" y="703.15">Access the</tspan><tspan x="837" dy="8.3">registration</tspan><tspan x="837" dy="8.3">data</tspan></text></g>
<g id="bsl-ad"><rect class="n lb" x="866" y="689" width="38" height="38"/><text class="t s4"><tspan x="885" y="700.85">Use the data to</tspan><tspan x="885" dy="5.7">inform focus</tspan><tspan x="885" dy="5.7">decision</tspan><tspan x="885" dy="5.7">making</tspan></text></g>
<g id="bsl-op"><rect class="n lb" x="914" y="690" width="38" height="38"/><text class="t s7"><tspan x="933" y="699">Use data</tspan><tspan x="933" dy="8.3">to identify</tspan><tspan x="933" dy="8.3">'bad</tspan><tspan x="933" dy="8.3">actors'</tspan></text></g>
</g>

<g id="bs-ve">
<g id="lbl-bs-ve"><rect class="n cr" x="52" y="738" width="39" height="38"/><text class="t s7 tc"><tspan x="71.5" y="755.3">Visit</tspan><tspan x="71.5" dy="8.3">England</tspan></text></g>
<g id="bsv-aw"><rect class="n vp" x="100" y="738" width="38" height="38"/><text class="t s35"><tspan x="119" y="751">Comms about</tspan><tspan x="119" dy="4.8">new policy to</tspan><tspan x="119" dy="4.8">engage/connect</tspan><tspan x="119" dy="4.8">with operators, etc</tspan></text><line class="sp" x1="130" y1="766.2" x2="135" y2="766.2"/></g>
<g id="bsv-cf"><rect class="n vp" x="818" y="738" width="38" height="38"/><text class="t s7"><tspan x="837" y="751.15">Access the</tspan><tspan x="837" dy="8.3">registration</tspan><tspan x="837" dy="8.3">data</tspan></text></g>
<g id="bsv-ad"><rect class="n vp" x="866" y="737" width="38" height="38"/><text class="t s4"><tspan x="885" y="748.85">Use the data to</tspan><tspan x="885" dy="5.7">inform focus</tspan><tspan x="885" dy="5.7">decision</tspan><tspan x="885" dy="5.7">making</tspan></text></g>
</g>

<g id="bs-other">
<g id="lbl-bs-other"><rect class="n bl" x="52" y="786" width="39" height="38"/><text class="t s65 tb"><tspan x="71.5" y="803.3">Other data</tspan><tspan x="71.5" dy="8">users</tspan></text></g>
<g id="bsd-cf"><rect class="n ld" x="818" y="786" width="38" height="38"/><text class="t s7"><tspan x="837" y="799.15">Access the</tspan><tspan x="837" dy="8.3">registration</tspan><tspan x="837" dy="8.3">data</tspan></text></g>
<g id="bsd-ad"><rect class="n ld" x="866" y="785" width="38" height="38"/><text class="t s4"><tspan x="885" y="796.85">Use the data to</tspan><tspan x="885" dy="5.7">inform focus</tspan><tspan x="885" dy="5.7">decision</tspan><tspan x="885" dy="5.7">making</tspan></text></g>
</g>

<g id="in-support">
<g id="lbl-support"><rect class="n dk" x="52" y="844" width="39" height="38"/><text class="t s5 td"><tspan x="71.5" y="855">Supporting</tspan><tspan x="71.5" dy="6.5">processes</tspan><tspan x="71.5" dy="6.5">and</tspan><tspan x="71.5" dy="6.5">systems</tspan></text></g>
<g id="ins-aw"><rect class="n gy" x="100" y="844" width="38" height="38"/><text class="t s65"><tspan x="119" y="860">GOV.UK</tspan><tspan x="119" dy="8">Notify</tspan></text></g>
<g id="ins-is"><rect class="n gy" x="148" y="844" width="38" height="38"/><text class="t s65"><tspan x="167" y="860">GOV.UK</tspan><tspan x="167" dy="8">Publishing</tspan></text></g>
<g id="ins-a"><rect class="n gy" x="363" y="844" width="39" height="38"/><rect class="gb" x="373" y="850" width="19" height="1.8"/><rect class="gb" x="369" y="854" width="27" height="1.8"/><rect class="gb" x="366" y="858" width="33" height="1.8"/><rect class="gb" x="367" y="862" width="31" height="1.8"/><rect class="gb" x="367" y="866" width="31" height="1.8"/><rect class="gb" x="366" y="870" width="33" height="1.8"/><rect class="gb" x="368" y="874" width="29" height="1.8"/></g>
<g id="ins-b"><rect class="n gy" x="405" y="844" width="39" height="38"/><text class="t s4"><tspan x="424.5" y="858.7">Do we need to</tspan><tspan x="424.5" dy="5.7">verify people's</tspan><tspan x="424.5" dy="5.7">personal info?</tspan></text></g>
<g id="ins-c"><rect class="n gy" x="446" y="844" width="39" height="38"/><text class="t s7"><tspan x="465.5" y="857.15">GOV.UK</tspan><tspan x="465.5" dy="8.3">One</tspan><tspan x="465.5" dy="8.3">Login?</tspan></text></g>
<g id="ins-d"><rect class="n gy" x="487" y="844" width="38" height="38"/><text class="t s65"><tspan x="506" y="853.3">Option to</tspan><tspan x="506" dy="8">save and</tspan><tspan x="506" dy="8">come back</tspan><tspan x="506" dy="8">later</tspan></text><line class="sp" x1="499" y1="878.6" x2="513" y2="878.6" style="stroke:#555"/></g>
<g id="ins-e"><rect class="n gy" x="528" y="844" width="39" height="38"/><rect class="gb" x="532" y="849.5" width="31" height="2.2"/><rect class="gb" x="534" y="854" width="27" height="2.2"/><rect class="gb" x="536" y="865.5" width="23" height="2.2"/><rect class="gb" x="531" y="870" width="33" height="2.2"/><rect class="gb" x="536" y="874.5" width="23" height="2.2"/></g>
<g id="ins-f"><rect class="n gy" x="577" y="844" width="38" height="38"/><text class="t s5"><tspan x="596" y="861.3">Bulk upload</tspan><tspan x="596" dy="6.5">functionality</tspan></text></g>
<g id="ins-pa"><rect class="n gy" x="722" y="845" width="38" height="38"/><text class="t s65"><tspan x="741" y="861">GOV.UK</tspan><tspan x="741" dy="8">Pay</tspan></text></g>
<g id="ins-su"><rect class="n gy" x="770" y="845" width="38" height="38"/><text class="t s55"><tspan x="789" y="855.4">How does</tspan><tspan x="789" dy="7">paper form</tspan><tspan x="789" dy="7">get into the</tspan><tspan x="789" dy="7">database?</tspan></text></g>
<g id="ins-cf"><rect class="n gy" x="818" y="845" width="38" height="38"/><text class="t s65"><tspan x="837" y="861">GOV.UK</tspan><tspan x="837" dy="8">Notify</tspan></text></g>
<g id="ins-ad"><rect class="n gy" x="866" y="845" width="38" height="38"/><rect class="gb" x="871" y="850" width="28" height="1.8"/><rect class="gb" x="876" y="854" width="18" height="1.8"/><rect class="gb" x="871" y="858" width="28" height="1.8"/><rect class="gb" x="869" y="862" width="32" height="1.8"/><rect class="gb" x="870" y="866" width="30" height="1.8"/><rect class="gb" x="872" y="870" width="26" height="1.8"/></g>
</g>

<g id="in-data">
<g id="lbl-data"><rect class="n dk" x="52" y="892" width="39" height="38"/><text class="t s55 td"><tspan x="71.5" y="912.9">Data</tspan></text></g>
<g id="ind-st"><rect class="n gy" x="387" y="892" width="38" height="38"/><text class="t s4"><tspan x="406" y="901">Data protection</tspan><tspan x="406" dy="5.7">of personal</tspan><tspan x="406" dy="5.7">data - sharing</tspan><tspan x="406" dy="5.7">it with Local</tspan><tspan x="406" dy="5.7">Authorities etc</tspan></text><line class="sp" x1="413" y1="924.6" x2="420" y2="924.6"/></g>
<g id="ind-cf"><rect class="n gy" x="818" y="894" width="38" height="38"/><text class="t s4"><tspan x="837" y="903">Data submitted</tspan><tspan x="837" dy="5.7">on form</tspan><tspan x="837" dy="5.7">automatically</tspan><tspan x="837" dy="5.7">saved into</tspan><tspan x="837" dy="5.7">database?</tspan></text></g>
</g>

<g id="in-metrics">
<g id="lbl-metrics"><rect class="n dk" x="52" y="941" width="39" height="38"/><text class="t s55 td"><tspan x="71.5" y="961.9">Metrics</tspan></text></g>
<g id="inm-gh"><rect class="n gy" x="242" y="941" width="39" height="66"/><text class="t s7"><tspan x="261.5" y="949">Cost of</tspan><tspan x="261.5" dy="8.3">assisted</tspan><tspan x="261.5" dy="8.3">digital</tspan></text><rect class="gb" x="248" y="974.5" width="27" height="1.8"/><rect class="gb" x="246" y="978.5" width="31" height="1.8"/><rect class="gb" x="246" y="982.5" width="31" height="1.8"/><rect class="gb" x="246" y="986.5" width="31" height="1.8"/><rect class="gb" x="247" y="990.5" width="29" height="1.8"/><rect class="gb" x="251" y="994.5" width="21" height="1.8"/></g>
<g id="inm-ie"><rect class="n gy" x="340" y="941" width="39" height="38"/><rect class="gb" x="348" y="947" width="23" height="1.8"/><rect class="gb" x="343" y="951.5" width="33" height="1.8"/><rect class="gb" x="346" y="956" width="27" height="1.8"/><rect class="gb" x="343" y="960.5" width="33" height="1.8"/><rect class="gb" x="344" y="965" width="31" height="1.8"/><rect class="gb" x="347" y="969.5" width="25" height="1.8"/></g>
<g id="inm-st"><rect class="n gy" x="387" y="941" width="38" height="38"/><text class="t s35"><tspan x="406" y="951.6">Google</tspan><tspan x="406" dy="4.8">analytics-style</tspan><tspan x="406" dy="4.8">analysis of the</tspan><tspan x="406" dy="4.8">traffic/people who</tspan><tspan x="406" dy="4.8">are registering</tspan></text><line class="sp" x1="410" y1="957.6" x2="422" y2="957.6"/></g>
<g id="inm-pi"><rect class="n gy" x="435" y="941" width="38" height="38"/><text class="t s7"><tspan x="454" y="962.45">Funnel</tspan></text></g>
<g id="inm-pr"><rect class="n gy" x="483" y="941" width="38" height="38"/><text class="t s55"><tspan x="502" y="951.4">Funnel</tspan><tspan x="502" dy="7">metrics /</tspan><tspan x="502" dy="7">abandoned</tspan><tspan x="502" dy="7">registrations</tspan></text></g>
<g id="inm-co"><rect class="n gy" x="531" y="941" width="38" height="38"/><text class="t s35 ltx"><tspan x="550" y="951.6">Research to find</tspan><tspan x="550" dy="4.8">out if the policy</tspan><tspan x="550" dy="4.8">has had an</tspan><tspan x="550" dy="4.8">impact (with a</tspan><tspan x="550" dy="4.8">Reality?)</tspan></text></g>
<g id="inm-su"><rect class="n gy" x="770" y="941" width="38" height="38"/><rect class="gb" x="776" y="945.5" width="25" height="2.2"/><rect class="gb" x="773" y="953.8" width="32" height="2.2"/><rect class="gb" x="777" y="962.5" width="23" height="2.2"/><rect class="gb" x="775" y="970.8" width="27" height="2.2"/></g>
<g id="inm-ur"><rect class="n gy" x="962" y="941" width="38" height="38"/><text class="t s45"><tspan x="981" y="955.6">Scheme</tspan><tspan x="981" dy="6">performance</tspan><tspan x="981" dy="6">metrics</tspan></text></g>
</g>

<g id="oc-policy">
<g id="lbl-policy"><rect class="n dk2" x="52" y="1013" width="39" height="38"/><text class="t s35 td"><tspan x="71.5" y="1030.8">Policy</tspan><tspan x="71.5" dy="4.8">considerations</tspan></text></g>
<g id="ocp-ie"><rect class="n gy" x="340" y="1014" width="38" height="38"/><text class="t s55"><tspan x="359" y="1024.4">Eligibility -</tspan><tspan x="359" dy="7">Need to</tspan><tspan x="359" dy="7">decide what</tspan><tspan x="359" dy="7">is in or out</tspan></text></g>
<g id="ocp-st"><rect class="n gy" x="387" y="1013" width="38" height="38"/><text class="t s4"><tspan x="406" y="1022">Do we need</tspan><tspan x="406" dy="5.7">an offline</tspan><tspan x="406" dy="5.7">alternative for</tspan><tspan x="406" dy="5.7">a lot of</tspan><tspan x="406" dy="5.7">people</tspan></text></g>
<g id="ocp-pr"><rect class="n gy" x="483" y="1014" width="38" height="38"/><text class="t s35 ltx"><tspan x="502" y="1022.2">Guidance on</tspan><tspan x="502" dy="4.8">compliance and</tspan><tspan x="502" dy="4.8">enforcement</tspan><tspan x="502" dy="4.8">process (what</tspan><tspan x="502" dy="4.8">happens when</tspan><tspan x="502" dy="4.8">regs not met)</tspan></text></g>
<g id="ocp-pa"><rect class="n gy" x="722" y="1014" width="38" height="38"/><text class="t s6"><tspan x="741" y="1023.85">How much</tspan><tspan x="741" dy="7.5">should the</tspan><tspan x="741" dy="7.5">registration</tspan><tspan x="741" dy="7.5">fee be?</tspan></text></g>
<g id="ocp-ur"><rect class="n gy" x="962" y="1014" width="38" height="38"/><text class="t s6"><tspan x="981" y="1031.35">Renewal</tspan><tspan x="981" dy="7.5">cost?</tspan></text></g>
</g>

<g id="oc-risks">
<g id="lbl-risks"><rect class="n dk2" x="52" y="1061" width="39" height="38"/><text class="t s55 td"><tspan x="71.5" y="1081.9">Risks</tspan></text></g>
<g id="ocr-gh"><rect class="n gy" x="244" y="1060" width="38" height="38"/><text class="t s65"><tspan x="263" y="1069.3">Cost of</tspan><tspan x="263" dy="8">assisted</tspan><tspan x="263" dy="8">digital</tspan><tspan x="263" dy="8">support</tspan></text></g>
<g id="ocr-fs"><rect class="n gy" x="292" y="1062" width="38" height="38"/><text class="t s65"><tspan x="311" y="1075.3">Cost of</tspan><tspan x="311" dy="8">targeted</tspan><tspan x="311" dy="8">ads?</tspan></text></g>
<g id="ocr-pi"><rect class="n gy" x="433" y="1062" width="38" height="38"/><rect class="gb" x="437" y="1067" width="30" height="1.8"/><rect class="gb" x="436" y="1071" width="32" height="1.8"/><rect class="gb" x="437" y="1075" width="30" height="1.8"/><rect class="gb" x="436" y="1079" width="32" height="1.8"/><rect class="gb" x="437" y="1083" width="30" height="1.8"/><rect class="gb" x="436" y="1087" width="32" height="1.8"/><rect class="gb" x="445" y="1091" width="14" height="1.8"/></g>
</g>

<g id="oc-opps">
<g id="lbl-opps"><rect class="n dk2" x="52" y="1107" width="39" height="38"/><text class="t s35 td"><tspan x="71.5" y="1127.2">Opportunities</tspan></text></g>
<g id="oco-gh"><rect class="n gy" x="244" y="1109" width="38" height="38"/><text class="t s4"><tspan x="263" y="1120.85">Work with LAs</tspan><tspan x="263" dy="5.7">to provide</tspan><tspan x="263" dy="5.7">support with</tspan><tspan x="263" dy="5.7">assisted digital</tspan></text><line class="sp" x1="272" y1="1122" x2="278" y2="1122"/></g>
<g id="oco-ie"><rect class="n gy" x="340" y="1108" width="38" height="38"/><text class="t s35"><tspan x="359" y="1118.6">Could this</tspan><tspan x="359" dy="4.8">offer an option</tspan><tspan x="359" dy="4.8">of engaging</tspan><tspan x="359" dy="4.8">in person via</tspan><tspan x="359" dy="4.8">LAs</tspan></text></g>
</g>
</svg>
